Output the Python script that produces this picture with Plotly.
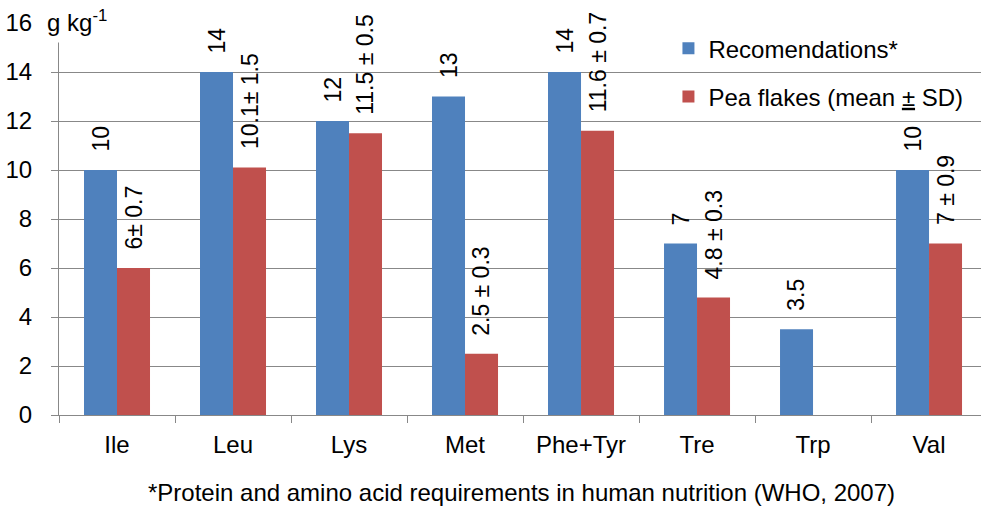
import plotly.graph_objects as go

categories = ["Ile", "Leu", "Lys", "Met", "Phe+Tyr", "Tre", "Trp", "Val"]
recommendations = [10, 14, 12, 13, 14, 7, 3.5, 10]
pea_flakes = [6, 10.1, 11.5, 2.5, 11.6, 4.8, None, 7]
rec_labels = ["10", "14", "12", "13", "14", "7", "3.5", "10"]
pea_labels = ["6± 0.7", "10.1± 1.5", "11.5 ± 0.5", "2.5 ± 0.3", "11.6 ± 0.7", "4.8 ± 0.3", "", "7 ± 0.9"]
y_ticks = [0, 2, 4, 6, 8, 10, 12, 14, 16]

BLUE = "#4F81BD"
RED = "#C0504D"
GRID = "#888888"
FONT = "Liberation Sans, Arial, sans-serif"

fig = go.Figure()
fig.add_trace(go.Bar(x=categories, y=recommendations, name="Recomendations*",
                     marker=dict(color=BLUE, line=dict(width=0)), legendgroup="a"))
fig.add_trace(go.Bar(x=categories, y=pea_flakes, name="Pea flakes (mean <u>±</u> SD)",
                     marker=dict(color=RED, line=dict(width=0)), legendgroup="b"))

annotations = []
for cat, val, lab in zip(categories, recommendations, rec_labels):
    if val is not None and lab:
        annotations.append(dict(x=cat, y=val, xref="x", yref="y", text=lab, textangle=-90,
                                showarrow=False, xanchor="center", yanchor="bottom",
                                xshift=-16.5, yshift=16, font=dict(size=23, color="black", family=FONT)))
for cat, val, lab in zip(categories, pea_flakes, pea_labels):
    if val is not None and lab:
        annotations.append(dict(x=cat, y=val, xref="x", yref="y", text=lab, textangle=-90,
                                showarrow=False, xanchor="center", yanchor="bottom",
                                xshift=16.5, yshift=16, font=dict(size=23, color="black", family=FONT)))

annotations.append(dict(x=-0.0152, y=1.0, xref="paper", yref="paper", text="g kg<sup>-1</sup>",
                        showarrow=False, xanchor="left", yanchor="middle", yshift=2,
                        font=dict(size=24, color="black", family=FONT)))
annotations.append(dict(x=0.502, y=-0.198, xref="paper", yref="paper",
                        text="*Protein and amino acid requirements in human nutrition (WHO, 2007)",
                        showarrow=False, xanchor="center", yanchor="middle",
                        font=dict(size=24, color="black", family=FONT)))

fig.update_layout(
    width=981, height=507,
    margin=dict(l=59, r=0, t=23, b=92),
    paper_bgcolor="white", plot_bgcolor="white",
    font=dict(family=FONT, size=24, color="black"),
    barmode="group", bargap=0.431, bargroupgap=0,
    showlegend=True,
    legend=dict(x=0.661, y=0.992, xanchor="left", yanchor="top", bgcolor="rgba(0,0,0,0)",
                tracegroupgap=14, font=dict(size=24, color="black", family=FONT)),
    annotations=annotations,
    shapes=[dict(type="rect", xref="paper", yref="paper", x0=-0.0206, x1=0.0835, y0=0.9503, y1=1.06,
                 fillcolor="white", line=dict(width=0), layer="above")],
)
fig.update_xaxes(type="category", categoryorder="array", categoryarray=categories,
                 range=[-0.5, 7.448], tickson="boundaries", ticks="outside", ticklen=7,
                 tickcolor=GRID, showline=True, linecolor=GRID, linewidth=1, showgrid=False,
                 ticklabelstandoff=8, tickfont=dict(size=24, color="black", family=FONT))
fig.update_yaxes(range=[0, 16], tickvals=y_ticks, ticks="outside", ticklen=7, tickcolor=GRID,
                 showline=True, linecolor=GRID, linewidth=1, showgrid=True, gridcolor=GRID,
                 gridwidth=1, zeroline=False, ticklabelstandoff=14,
                 tickfont=dict(size=24, color="black", family=FONT))

fig.write_html("out.html", config={"displayModeBar": False},
               post_script="document.body.style.margin='0';document.body.style.padding='0';")
